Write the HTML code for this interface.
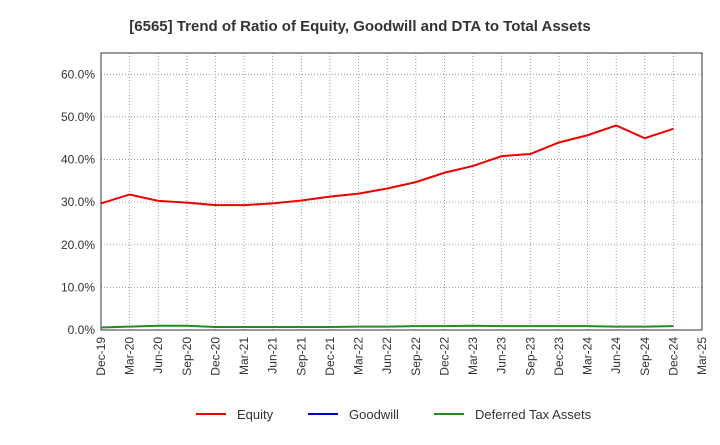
<!DOCTYPE html>
<html><head><meta charset="utf-8"><style>
body{margin:0;background:#fff;font-family:"Liberation Sans",sans-serif;}
</style></head><body>
<svg id="c" width="720" height="440" xmlns="http://www.w3.org/2000/svg">
<text x="360" y="31" text-anchor="middle" font-size="15" font-weight="bold" fill="#333">[6565]  Trend of Ratio of Equity, Goodwill and DTA to Total Assets</text>
<g id="grid"></g><g id="axes"></g><g id="series"></g>
<g>
<line x1="196" y1="414" x2="226" y2="414" stroke="#e00" stroke-width="2"/><text x="237" y="419" font-size="13" fill="#333">Equity</text>
<line x1="308" y1="414" x2="338" y2="414" stroke="#0000cc" stroke-width="2"/><text x="349" y="419" font-size="13" fill="#333">Goodwill</text>
<line x1="434" y1="414" x2="464" y2="414" stroke="#228B22" stroke-width="2"/><text x="475" y="419" font-size="13" fill="#333">Deferred Tax Assets</text>
</g>
</svg>
<script>
const categories=["Dec-19","Mar-20","Jun-20","Sep-20","Dec-20","Mar-21","Jun-21","Sep-21","Dec-21","Mar-22","Jun-22","Sep-22","Dec-22","Mar-23","Jun-23","Sep-23","Dec-23","Mar-24","Jun-24","Sep-24","Dec-24","Mar-25"];
const equity=[29.7,31.8,30.3,29.9,29.3,29.3,29.7,30.4,31.3,32.0,33.2,34.7,36.9,38.5,40.8,41.3,44.0,45.7,48.0,45.0,47.2];
const goodwill=[null,null,null,null,null,null,null,null,null,null,null,null,null,null,null,null,null,null,null,null,null];
const dta=[0.6,0.8,1.0,1.0,0.7,0.7,0.7,0.7,0.7,0.8,0.8,0.9,0.9,1.0,0.9,0.9,0.9,0.9,0.8,0.8,0.9];
const yTicks=[0,10,20,30,40,50,60];
const L=101,R=702,T=53,B=330,yMax=65;
const NS="http://www.w3.org/2000/svg";
const x=i=>L+i*(R-L)/(categories.length-1);
const y=v=>B-v*(B-T)/yMax;
function mk(t,a,p){const e=document.createElementNS(NS,t);for(const k in a)e.setAttribute(k,a[k]);p.appendChild(e);return e;}
const g=document.getElementById('grid'),ax=document.getElementById('axes'),s=document.getElementById('series');
categories.forEach((c,i)=>{
 const l=mk('line',{x1:x(i),x2:x(i),y1:T,y2:B,stroke:'#888','stroke-dasharray':'1,2','stroke-width':0.8},g);
 
 
 const t=mk('text',{x:0,y:0,'font-size':12,fill:'#333','text-anchor':'end',transform:`translate(${x(i)+4},${B+7}) rotate(-90)`},ax);
 t.textContent=c;
 
 
});
yTicks.forEach(v=>{
 const l=mk('line',{x1:L,x2:R,y1:y(v),y2:y(v),stroke:'#888','stroke-dasharray':'1,2','stroke-width':0.8},g);
 
 
 const t=mk('text',{x:L-6,y:y(v)+4,'font-size':12,fill:'#333','text-anchor':'end'},ax);
 t.textContent=v.toFixed(1)+'%';
 
 
});
const f=mk('rect',{x:L,y:T,width:R-L,height:B-T,fill:'none',stroke:'#333','stroke-width':1},ax);


function line(d,col,name){
 const pts=d.map((v,i)=>v==null?null:x(i)+','+y(v)).filter(p=>p);
 if(pts.length<2)return;
 const p=mk('polyline',{points:pts.join(' '),fill:'none',stroke:col,'stroke-width':2},s);
 
 
}
line(goodwill,'#0000cc','goodwill-line');
line(dta,'#228B22','dta-line');
line(equity,'#e00','equity-line');
</script>
</body></html>
